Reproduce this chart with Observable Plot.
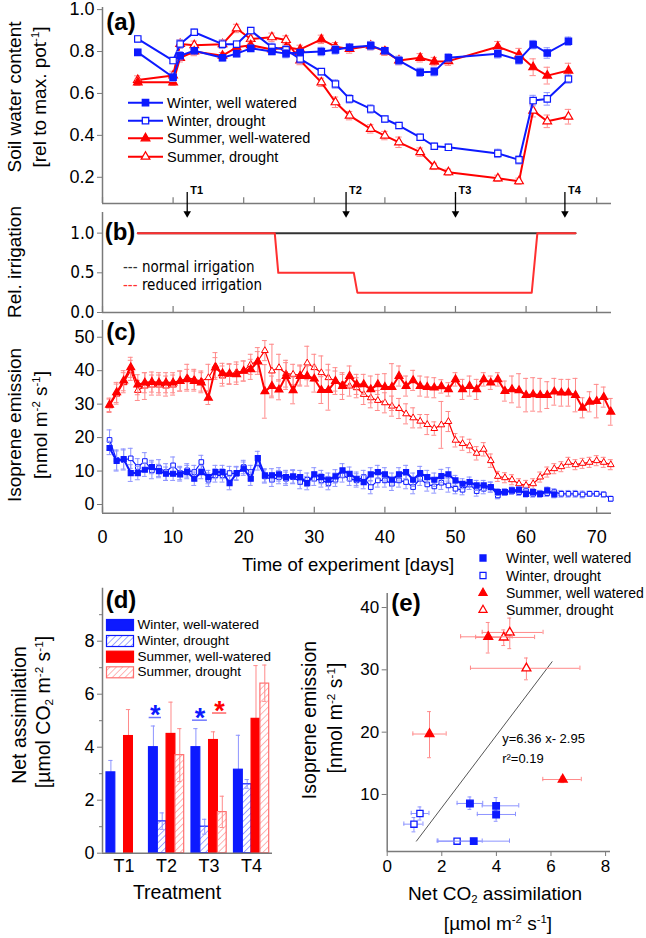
<!DOCTYPE html>
<html><head><meta charset="utf-8">
<script src="https://cdn.jsdelivr.net/npm/d3@7"></script>
<script src="https://cdn.jsdelivr.net/npm/@observablehq/plot@0.6"></script>
<style>
html,body{margin:0;padding:0;background:#fff}
#root{position:relative;width:646px;height:938px;overflow:hidden;font-family:"Liberation Sans",Arial,sans-serif;color:#000}
.t{position:absolute;white-space:nowrap;line-height:1}
.t sup{font-size:0.6em;position:relative;top:-0.6em;vertical-align:baseline}
.t sub{font-size:0.6em;position:relative;top:0.25em;vertical-align:baseline}
.narrow{font-family:"Liberation Sans Narrow","Arial Narrow","DejaVu Sans Condensed",sans-serif;font-stretch:condensed}
</style></head>
<body>
<svg width="0" height="0" style="position:absolute">
 <defs>
  <pattern id="hatchB" patternUnits="userSpaceOnUse" width="4.5" height="4.5" patternTransform="rotate(45)">
    <rect width="4.5" height="4.5" fill="#fff"/>
    <line x1="0" y1="0" x2="0" y2="4.5" stroke="#5560ff" stroke-width="1.1"/>
  </pattern>
  <pattern id="hatchR" patternUnits="userSpaceOnUse" width="4.5" height="4.5" patternTransform="rotate(45)">
    <rect width="4.5" height="4.5" fill="#fff"/>
    <line x1="0" y1="0" x2="0" y2="4.5" stroke="#ff7a7a" stroke-width="1.1"/>
  </pattern>
 </defs>
</svg>
<div id="root"></div>
<script>
// ---------- DATA ----------
const seriesNames = ["Winter, well watered","Winter, drought","Summer, well-watered","Summer, drought"];
const dayTicks = [0,10,20,30,40,50,60,70];

// Panel (a): soil water content
const daysA = [5,10,11,13,17,19,21,24,26,28,31,33,35,38,40,42,45,47,49,56,59,61,63,66];
const wWW_a = [.796,.677,.78,.804,.77,.79,.815,.80,.79,.795,.80,.808,.82,.828,.804,.757,.701,.704,.770,.789,.760,.833,.793,.849];
const wD_a  = [.86,.757,.836,.892,.835,.835,.90,.82,.808,.765,.704,.645,.574,.526,.478,.447,.391,.348,.343,.314,.283,.566,.574,.669];
const sWW_a = [.653,.653,.77,.80,.78,.82,.83,.81,.82,.81,.858,.823,.812,.828,.801,.757,.770,.752,.754,.823,.785,.725,.685,.709];
const sD_a  = [.664,.686,.836,.83,.835,.91,.86,.868,.855,.757,.653,.558,.494,.431,.399,.367,.320,.252,.224,.195,.181,.518,.467,.489];
const wWW_ae = [.015,.02,.02,.015,.015,.015,.015,.015,.02,.015,.02,.02,.015,.02,.015,.02,.02,.02,.02,.02,.02,.02,.025,.02];
const wD_ae  = [.015,.015,.02,.015,.02,.015,.015,.02,.02,.02,.015,.02,.02,.02,.015,.015,.015,.015,.015,.02,.02,.025,.03,.02];
const sWW_ae = [.015,.015,.02,.02,.015,.02,.02,.015,.02,.02,.02,.02,.02,.02,.02,.02,.02,.02,.02,.025,.03,.04,.04,.035];
const sD_ae  = [.02,.02,.02,.02,.02,.02,.02,.02,.02,.02,.02,.025,.02,.02,.02,.025,.02,.015,.015,.015,.015,.03,.03,.035];

// Panel (b): relative irrigation
const normDays = [5,67];
const normIrr  = [1,1];
const redDays  = [5,24.4,24.9,35.6,36.1,60.8,61.6,67];
const redIrr   = [1,1,0.5,0.5,0.25,0.25,1,1];
const irrLegend = ["normal irrigation","reduced irrigation"];

// Treatment arrows
const tDays = [12,34.5,50,65.5];
const tLabels = ["T1","T2","T3","T4"];

// Panel (c): isoprene emission (daily)
const daysC = [1,2,3,4,5,6,7,8,9,10,11,12,13,14,15,16,17,18,19,20,21,22,23,24,25,26,27,28,29,30,31,32,33,34,35,36,37,38,39,40,41,42,43,44,45,46,47,48,49,50,51,52,53,54,55,56,57,58,59,60,61,62,63,64,65,66,67,68,69,70,71,72];
const sWW_c = [29.8,33.5,37.0,41.0,35.8,36.4,36.6,36.4,36.4,36.4, 36.9,37.4,36.9,36.4,31.9,40.9,39.2,39.1,38.9,39.9, 40.4,42.7,33.8,35.4,34.3,38.4,34.1,38.4,38.4,37.6, 34.2,34.2,36.9,35.4,38.4,35.9,35.9,34.4,35.9,35.1, 35.1,38.4,35.4,37.1,35.4,35.1,34.9,35.3,34.4,37.4, 34.4,35.4,34.4,37.4,36.4,37.4,33.9,34.4,34.1,32.7, 32.9,32.7,32.7,33.7,33.4,33.4,32.7,28.9,30.7,30.9, 32.1,27.7];
const sD_c = [29.5,33.0,36.4,40.1,34.1,35.4,35.7,35.7,35.4,35.7, 36.9,37.9,37.4,36.9,37.9,41.4,38.4,38.9,39.6,39.9, 41.9,42.9,46.0,39.9,40.9,39.1,38.9,38.7,42.3,40.9, 39.4,37.9,36.9,35.9,35.4,34.9,32.9,31.9,31.1,30.4, 29.4,28.7,27.1,25.9,24.9,23.9,22.7,23.8,24.8,19.2, 18.2,17.5,15.3,16.5,13.1,8.4,8.0,7.4,6.2,5.7, 6.2,8.2,9.7,10.7,11.3,12.6,11.9,12.3,12.6,13.1, 12.6,11.9];
const wWW_c = [16.9,13.0,13.6,9.4,9.4,10.4,11.2,10.0,9.2,9.2, 9.0,9.7,7.7,9.7,8.2,9.7,9.7,6.4,9.4,10.7, 7.7,13.9,8.7,8.7,9.0,8.2,8.4,8.2,6.4,9.0, 8.2,7.4,8.4,10.2,9.2,7.7,6.7,9.0,9.7,9.0, 7.4,9.0,9.7,7.4,9.4,8.2,7.4,8.5,9.0,7.2, 6.2,6.7,5.7,5.7,5.2,3.7,3.7,4.2,4.4,3.2, 3.7,3.2,4.2,3.0];
const wD_c = [19.3,13.3,13.3,13.8,11.2,13.0,10.2,10.9,9.7,11.7, 9.4,10.2,9.7,12.7,7.4,8.7,8.7,9.4,9.2,11.2, 9.7,12.3,8.4,7.4,8.2,7.7,8.2,6.7,7.4,7.7, 7.2,6.4,7.4,8.7,7.7,7.2,8.2,5.2,7.2,7.2, 6.2,7.2,6.7,5.2,7.7,6.0,5.4,6.5,5.7,4.7, 4.4,6.0,4.0,4.7,5.2,2.7,3.7,4.0,3.7,4.0, 3.2,3.2,3.4,3.7,3.2,3.2,3.2,3.0,3.2,3.2, 3.0,1.7];
const sWW_ce = [2,3,3,3,3,3,3,3,3,3, 3,3,3,3,2,3,3,3,3,3, 3,3,8,3,3,4,4,3,3,4, 4,6,4,4,3,3,3,4,3,4, 7,3,3,3,3,3,3,2,2,2, 3,3,3,2,2,2,3,4,5,5, 5,5,4,4,4,4,5,3,3,5, 3,4];
const sD_ce = [2,3,3,3,3,4,3,3,3,3, 3,4,3,3,4,4,3,3,3,3, 3,4,3,8,4,4,3,3,5,4, 5,4,3,3,3,3,3,3,3,3, 3,3,3,3,2,3,2,7,3,2, 2,2,2,2,2,1.5,1.5,1.5,1.5,1.5, 1.5,1.5,1.5,1.5,1.5,1.5,1.5,1.5,1.5,1.5, 1.5,1.5];
const wWW_ce = [2,3,3,2.5,2,2,2,2,2,2, 2,2,2,2,2,2,2,2,2,2, 2,2,2,2,2,2,2,2,2,2, 2,2,2,2,2,2,2,2,2,2, 2,2,2,2,2,2,2,2,2,1.5, 1.5,1.5,1.5,1.5,1.5,1,1,1,1,1, 1,1,1,1];
const wD_ce = [3,3,3,3,2.5,2.5,2.5,2.5,2.5,2.5, 2,2,2,2,2,2,2,2,2,2, 2,2,2,2,2,2,2,2,2,2, 2,2,2,2,2,2,2,2,2,2, 2,2,2,2,2,2,2,2,2,1.5, 1.5,1.5,1.5,1.5,1.5,1,1,1,1,1, 1,1,1,1,1,1,1,1,0.8,0.8, 0.8,0.8];

// Panel (d): net assimilation per treatment
const dGroups = ["T1","T2","T3","T4"];
const d_wWW = [3.05,4.0,4.0,3.15];   const d_wWW_hi = [3.5,4.8,4.7,4.45];
const d_wD  = [null,1.2,1.0,2.6];    const d_wD_lo = [null,0.9,0.72,2.45]; const d_wD_hi = [null,1.52,1.28,2.78];
const d_sWW = [4.42,4.5,4.27,5.07];  const d_sWW_hi = [5.42,5.7,4.58,7.08];
const d_sD  = [null,3.7,1.55,6.4];   const d_sD_lo = [null,2.7,0.97,5.73]; const d_sD_hi = [null,4.7,2.15,7.1];
const dLegend = ["Winter, well-watered","Winter, drought","Summer, well-watered","Summer, drought"];
const starGroup = [2,3,3];
const starFrom = [-0.41,-0.39,0.08];
const starTo = [-0.12,-0.04,0.415];
const starLevel = [5.12,5.02,5.29];
const starColor = ["blue","blue","red"];

// Panel (e): isoprene vs assimilation
const e_wWW_x = [3.03,3.99,3.99,3.17]; const e_wWW_y = [8.56,8.18,6.79,2.51];
const e_wWW_xlo = [2.56,3.48,3.30,1.83]; const e_wWW_xhi = [3.50,4.82,4.70,4.48];
const e_wWW_ylo = [7.6,7.4,5.7,2.2]; const e_wWW_yhi = [9.6,9.5,7.9,2.8];
const e_wD_x = [1.20,0.98,2.56]; const e_wD_y = [6.95,5.24,2.51];
const e_wD_xlo = [0.88,0.61,1.86]; const e_wD_xhi = [1.53,1.31,3.48];
const e_wD_ylo = [5.9,4.0,2.2]; const e_wD_yhi = [8.0,6.3,2.8];
const e_sWW_x = [3.70,1.55,6.43]; const e_sWW_y = [35.3,19.7,12.4];
const e_sWW_xlo = [2.69,0.94,5.70]; const e_sWW_xhi = [4.58,2.16,7.11];
const e_sWW_ylo = [32.7,15.9,11.9]; const e_sWW_yhi = [37.6,23.3,12.9];
const e_sD_x = [4.27,4.49,5.10]; const e_sD_y = [35.2,36.0,30.25];
const e_sD_xlo = [3.24,3.48,3.05]; const e_sD_xhi = [5.40,5.71,7.06];
const e_sD_ylo = [33.9,33.4,28.4]; const e_sD_yhi = [36.4,38.3,31.9];
const regX = [1.07,6.04]; const regY = [2.51,31.3];
const regText = ["y=6.36 x- 2.95","r²=0.19"];
const eLegend = ["Winter, well watered","Winter, drought","Summer, well watered","Summer, drought"];

// ---------- STYLE ----------
const root = document.getElementById("root");
const FONT = "'Liberation Sans', Arial, sans-serif";
const NARROW = "'Liberation Sans Narrow','Arial Narrow','DejaVu Sans Condensed',sans-serif";
const AX = "#7a7a7a";
const BLUE = "#0d1aff", RED = "#ff0000", LBLUE = "#8d94ff", LRED = "#ff8a8a";
const colorOf = {blue: BLUE, red: RED};
const baseStyle = `font-family:${FONT};font-size:18px;background:transparent;overflow:visible;color:#000;`;

function place(svg, left, top){
  svg.style.position = "absolute"; svg.style.left = left + "px"; svg.style.top = top + "px";
  root.appendChild(svg);
}
function addText(html, x, y, o = {}){
  const d = document.createElement("div");
  d.className = "t" + (o.cls ? " " + o.cls : "");
  d.innerHTML = html;
  d.style.left = x + "px"; d.style.top = y + "px";
  d.style.fontSize = (o.size || 19) + "px";
  if (o.bold) d.style.fontWeight = "bold";
  if (o.color) d.style.color = o.color;
  const tx = o.anchor === "start" ? "0" : o.anchor === "end" ? "-100%" : "-50%";
  d.style.transform = `translate(${tx},-50%)` + (o.rot ? " rotate(-90deg)" : "");
  root.appendChild(d);
}
function zip(xs, ys, es){ return xs.map((x, i) => ({x, y: ys[i], e: es ? es[i] : 0})).filter(d => d.y != null); }
function series(data, o){
  const cap = o.cap;
  return [
    Plot.ruleX(data, {x: "x", y1: d => d.y - d.e, y2: d => d.y + d.e, stroke: o.light, strokeWidth: 1}),
    Plot.ruleY(data, {y: d => d.y + d.e, x1: d => d.x - cap, x2: d => d.x + cap, stroke: o.light, strokeWidth: 1}),
    Plot.ruleY(data, {y: d => d.y - d.e, x1: d => d.x - cap, x2: d => d.x + cap, stroke: o.light, strokeWidth: 1}),
    Plot.line(data, {x: "x", y: "y", stroke: o.color, strokeWidth: o.sw}),
    Plot.dot(data, {x: "x", y: "y", symbol: o.symbol, r: o.r, fill: o.filled ? o.color : "white", stroke: o.color, strokeWidth: o.dsw || 1.2})
  ];
}

// ---------- PANEL A ----------
const yA0 = 0.075;
const plotA = Plot.plot({
  width: 646, height: 210, marginLeft: 102, marginRight: 35, marginTop: 7, marginBottom: 7,
  style: baseStyle,
  x: {domain: [0, 72.1], axis: null},
  y: {domain: [yA0, 1.01]},
  marks: [
    Plot.ruleX([0], {stroke: AX, strokeWidth: 1.5}),
    Plot.ruleY([yA0], {stroke: AX, strokeWidth: 1.5}),
    Plot.ruleX(dayTicks, {x: d => d, y1: yA0, y2: yA0 + 0.028, stroke: AX, strokeWidth: 1.2}),
    Plot.axisY({ticks: [0.2, 0.4, 0.6, 0.8, 1.0], tickFormat: d3.format(".1f"), tickSize: 5, tickPadding: 3, stroke: AX, fontSize: 18, label: null}),
    ...series(zip(daysA, sD_a, sD_ae), {color: RED, light: LRED, symbol: "triangle", r: 3.2, filled: false, sw: 2, cap: 0.45}),
    ...series(zip(daysA, sWW_a, sWW_ae), {color: RED, light: LRED, symbol: "triangle", r: 3.2, filled: true, sw: 2, cap: 0.45}),
    ...series(zip(daysA, wD_a, wD_ae), {color: BLUE, light: LBLUE, symbol: "square", r: 3.6, filled: false, sw: 2, cap: 0.45}),
    ...series(zip(daysA, wWW_a, wWW_ae), {color: BLUE, light: LBLUE, symbol: "square", r: 3.6, filled: true, sw: 2, cap: 0.45})
  ]
});
place(plotA, 0, 0);

// ---------- PANEL B ----------
const plotB = Plot.plot({
  width: 646, height: 110, marginLeft: 102, marginRight: 35, marginTop: 7, marginBottom: 3,
  style: baseStyle,
  x: {domain: [0, 72.1], axis: null},
  y: {domain: [0, 1.26]},
  marks: [
    Plot.ruleX([0], {stroke: AX, strokeWidth: 1.5}),
    Plot.ruleY([0], {stroke: AX, strokeWidth: 1.5}),
    Plot.ruleX(dayTicks, {x: d => d, y1: 0, y2: 0.076, stroke: AX, strokeWidth: 1.2}),
    Plot.axisY({ticks: [0, 0.5, 1], tickFormat: d3.format(".1f"), tickSize: 5, tickPadding: 3, stroke: AX, fontSize: 17, fontFamily: NARROW, label: null}),
    Plot.line(zip(normDays, normIrr), {x: "x", y: "y", stroke: "#333", strokeWidth: 2}),
    Plot.line(zip(redDays, redIrr), {x: "x", y: "y", stroke: "#ff3030", strokeWidth: 2})
  ]
});
place(plotB, 0, 205);

// ---------- ARROWS T1..T4 ----------
const plotT = Plot.plot({
  width: 646, height: 45, marginLeft: 102, marginRight: 35, marginTop: 0, marginBottom: 0,
  style: baseStyle,
  x: {domain: [0, 72.1], axis: null},
  y: {domain: [0, 45], range: [0, 45], axis: null},
  marks: [
    Plot.ruleX(tDays, {x: d => d, y1: 7, y2: 27, stroke: "#000", strokeWidth: 1.3}),
    Plot.dot(tDays, {x: d => d, y: () => 28, symbol: "triangle", r: 2.8, rotate: 180, fill: "#000", stroke: "none"}),
    Plot.text(tDays, {x: d => d, y: () => 5, text: (d, i) => tLabels[i], dx: 3, textAnchor: "start", fontWeight: "bold", fontSize: 11})
  ]
});
place(plotT, 0, 185);

// ---------- PANEL C ----------
const yC0 = -2.6;
const plotC = Plot.plot({
  width: 646, height: 230, marginLeft: 102, marginRight: 35, marginTop: 7, marginBottom: 30.3,
  style: baseStyle,
  x: {domain: [0, 72.1]},
  y: {domain: [yC0, 55]},
  marks: [
    Plot.ruleX([0], {stroke: AX, strokeWidth: 1.5}),
    Plot.ruleY([yC0], {stroke: AX, strokeWidth: 1.5}),
    Plot.ruleX(dayTicks, {x: d => d, y1: yC0, y2: yC0 + 1.8, stroke: AX, strokeWidth: 1.2}),
    Plot.axisY({ticks: [0, 10, 20, 30, 40, 50], tickSize: 5, tickPadding: 3, stroke: AX, fontSize: 18, label: null}),
    Plot.axisX({ticks: dayTicks, tickSize: 0, tickPadding: 17, fontSize: 18, label: null}),
    ...series(zip(daysC, sD_c, sD_ce), {color: RED, light: LRED, symbol: "triangle", r: 2.5, filled: false, sw: 1.2, cap: 0.35, dsw: 1}),
    ...series(zip(daysC, sWW_c, sWW_ce), {color: RED, light: LRED, symbol: "triangle", r: 2.9, filled: true, sw: 2, cap: 0.35}),
    ...series(zip(daysC, wD_c, wD_ce), {color: BLUE, light: LBLUE, symbol: "square", r: 2.6, filled: false, sw: 1.2, cap: 0.35, dsw: 1}),
    ...series(zip(daysC.slice(0, wWW_c.length), wWW_c, wWW_ce), {color: BLUE, light: LBLUE, symbol: "square", r: 2.8, filled: true, sw: 2, cap: 0.35})
  ]
});
place(plotC, 0, 313);

// ---------- PANEL D ----------
const BW = 0.207;
function barRows(vals, lo, hi, k){
  return vals.map((v, i) => ({g: i + 1, k, v, lo: lo ? lo[i] : v, hi: hi[i]})).filter(d => d.v != null);
}
const bWWW = barRows(d_wWW, null, d_wWW_hi, 0);
const bWD = barRows(d_wD, d_wD_lo, d_wD_hi, 1);
const bSWW = barRows(d_sWW, null, d_sWW_hi, 2);
const bSD = barRows(d_sD, d_sD_lo, d_sD_hi, 3);
const bx1 = d => d.g - 2 * BW + d.k * BW;
const bx2 = d => bx1(d) + BW;
const bxm = d => bx1(d) + BW / 2;
function barMarks(rows, fill, stroke, light){
  return [
    Plot.ruleX(rows, {x: bxm, y1: "lo", y2: "hi", stroke: light, strokeWidth: 1}),
    Plot.ruleY(rows, {y: "hi", x1: d => bxm(d) - 0.05, x2: d => bxm(d) + 0.05, stroke: light, strokeWidth: 1}),
    Plot.rectY(rows, {x1: bx1, x2: bx2, y1: 0, y2: "v", fill, stroke, strokeWidth: 1.2}),
    Plot.ruleX(rows.filter(d => d.lo < d.v), {x: bxm, y1: "lo", y2: "v", stroke: light, strokeWidth: 1}),
    Plot.ruleY(rows.filter(d => d.lo < d.v), {y: "lo", x1: d => bxm(d) - 0.05, x2: d => bxm(d) + 0.05, stroke: light, strokeWidth: 1})
  ];
}
const stars = starGroup.map((g, i) => ({g, a: starFrom[i], b: starTo[i], y: starLevel[i], c: colorOf[starColor[i]]}));
const plotD = Plot.plot({
  width: 300, height: 300, marginLeft: 102, marginRight: 28, marginTop: 7.7, marginBottom: 27.3,
  style: baseStyle,
  x: {domain: [0.492, 4.492]},
  y: {domain: [0, 10]},
  marks: [
    ...barMarks(bWWW, BLUE, BLUE, LBLUE),
    ...barMarks(bWD, "url(#hatchB)", BLUE, LBLUE),
    ...barMarks(bSWW, RED, RED, LRED),
    ...barMarks(bSD, "url(#hatchR)", "#ff7070", LRED),
    Plot.ruleX([0.492], {stroke: AX, strokeWidth: 1.5}),
    Plot.ruleY([0], {stroke: AX, strokeWidth: 1.5}),
    Plot.axisY({ticks: [0, 2, 4, 6, 8], tickSize: 5, tickPadding: 3, stroke: AX, fontSize: 18, label: null}),
    Plot.axisY({ticks: [1, 3, 5, 7, 9], tickSize: 3, tickFormat: () => "", stroke: AX, label: null}),
    Plot.axisX({ticks: [1, 2, 3, 4], tickFormat: i => dGroups[i - 1], tickSize: 0, tickPadding: 6, fontSize: 18, label: null}),
    Plot.ruleY(stars, {y: "y", x1: d => d.g + d.a, x2: d => d.g + d.b, stroke: d => d.c, strokeOpacity: 0.6, strokeWidth: 1.5}),
    Plot.text(stars, {x: d => d.g + (d.a + d.b) / 2, y: "y", text: () => "*", fill: d => d.c, fontSize: 27, fontWeight: "bold", dy: -2})
  ]
});
place(plotD, 0, 580);

// ---------- PANEL E ----------
function ePts(xs, ys, xlo, xhi, ylo, yhi){
  return xs.map((x, i) => ({x, y: ys[i], xlo: xlo[i], xhi: xhi[i], ylo: ylo[i], yhi: yhi[i]}));
}
const eWWW = ePts(e_wWW_x, e_wWW_y, e_wWW_xlo, e_wWW_xhi, e_wWW_ylo, e_wWW_yhi);
const eWD = ePts(e_wD_x, e_wD_y, e_wD_xlo, e_wD_xhi, e_wD_ylo, e_wD_yhi);
const eSWW = ePts(e_sWW_x, e_sWW_y, e_sWW_xlo, e_sWW_xhi, e_sWW_ylo, e_sWW_yhi);
const eSD = ePts(e_sD_x, e_sD_y, e_sD_xlo, e_sD_xhi, e_sD_ylo, e_sD_yhi);
function eMarks(pts, color, light, symbol, r, filled){
  const cx = 0.07, cy = 0.35;
  return [
    Plot.ruleY(pts, {y: "y", x1: "xlo", x2: "xhi", stroke: light, strokeWidth: 1}),
    Plot.ruleX(pts, {x: "xlo", y1: d => d.y - cy, y2: d => d.y + cy, stroke: light, strokeWidth: 1}),
    Plot.ruleX(pts, {x: "xhi", y1: d => d.y - cy, y2: d => d.y + cy, stroke: light, strokeWidth: 1}),
    Plot.ruleX(pts, {x: "x", y1: "ylo", y2: "yhi", stroke: light, strokeWidth: 1}),
    Plot.ruleY(pts, {y: "ylo", x1: d => d.x - cx, x2: d => d.x + cx, stroke: light, strokeWidth: 1}),
    Plot.ruleY(pts, {y: "yhi", x1: d => d.x - cx, x2: d => d.x + cx, stroke: light, strokeWidth: 1}),
    Plot.dot(pts, {x: "x", y: "y", symbol, r, fill: filled ? color : "white", stroke: color, strokeWidth: 1.3})
  ];
}
const yE0 = 0.85;
const plotE = Plot.plot({
  width: 346, height: 300, marginLeft: 86.7, marginRight: 36, marginTop: 13, marginBottom: 29,
  style: baseStyle,
  x: {domain: [0, 8.18]},
  y: {domain: [yE0, 42.25]},
  marks: [
    Plot.ruleX([0], {stroke: AX, strokeWidth: 1.5}),
    Plot.ruleY([yE0], {stroke: AX, strokeWidth: 1.5}),
    Plot.axisX({ticks: [0, 2, 4, 6, 8], tickSize: 5, tickPadding: 3, stroke: AX, fontSize: 17, label: null}),
    Plot.axisY({ticks: [10, 20, 30, 40], tickSize: 5, tickPadding: 3, stroke: AX, fontSize: 17, label: null}),
    Plot.line(zip(regX, regY), {x: "x", y: "y", stroke: "#555", strokeWidth: 1}),
    ...eMarks(eSD, RED, LRED, "triangle", 3.3, false),
    ...eMarks(eSWW, RED, LRED, "triangle", 3.3, true),
    ...eMarks(eWD, BLUE, LBLUE, "square", 3.5, false),
    ...eMarks(eWWW, BLUE, LBLUE, "square", 3.7, true),
    Plot.text([regText[0]], {x: () => 4.21, y: () => 19.0, text: d => d, textAnchor: "start", fontSize: 13}),
    Plot.text([regText[1]], {x: () => 4.21, y: () => 15.8, text: d => d, textAnchor: "start", fontSize: 13})
  ]
});
place(plotE, 300, 580);

// ---------- LEGEND GRAPHICS ----------
const leg = d3.create("svg").attr("width", 646).attr("height", 938)
  .style("position", "absolute").style("left", "0").style("top", "0").style("pointer-events", "none");
root.appendChild(leg.node());
const sym = (t, r) => d3.symbol(t, Math.PI * r * r)();
const legStyle = [
  {c: BLUE, s: d3.symbolSquare, f: true, r: 3.6},
  {c: BLUE, s: d3.symbolSquare, f: false, r: 3.6},
  {c: RED, s: d3.symbolTriangle, f: true, r: 3.2},
  {c: RED, s: d3.symbolTriangle, f: false, r: 3.2}
];
// panel (a) legend
[102.7, 120.7, 138.3, 156.7].forEach((y, i) => {
  const d = legStyle[i];
  leg.append("line").attr("x1", 128).attr("x2", 163).attr("y1", y).attr("y2", y).attr("stroke", d.c).attr("stroke-width", 2);
  leg.append("path").attr("d", sym(d.s, d.r)).attr("transform", `translate(145.5,${y})`)
    .attr("fill", d.f ? d.c : "#fff").attr("stroke", d.c).attr("stroke-width", 1.3);
  addText(seriesNames[i], 167, y, {size: 14.5, anchor: "start"});
});
// panel (d) legend
const dSw = [{fill: BLUE, stroke: BLUE}, {fill: "url(#hatchB)", stroke: BLUE}, {fill: RED, stroke: RED}, {fill: "url(#hatchR)", stroke: "#ff7070"}];
[625, 641, 656.7, 672.3].forEach((y, i) => {
  leg.append("rect").attr("x", 106.5).attr("y", y - 5.5).attr("width", 27).attr("height", 11)
    .attr("fill", dSw[i].fill).attr("stroke", dSw[i].stroke).attr("stroke-width", 1.2);
  addText(dLegend[i], 137.5, y, {size: 13.5, anchor: "start"});
});
// panel (e) legend
[558, 575.5, 593, 610].forEach((y, i) => {
  const d = legStyle[i];
  leg.append("path").attr("d", sym(d.s, d.r * 0.95)).attr("transform", `translate(483,${y})`)
    .attr("fill", d.f ? d.c : "#fff").attr("stroke", d.c).attr("stroke-width", 1.2);
  addText(eLegend[i], 506, y, {size: 14, anchor: "start"});
});
// panel (b) legend
addText(`<span style="color:#333">---</span> ${irrLegend[0]}`, 123, 266.5, {size: 15, anchor: "start", cls: "narrow"});
addText(`<span style="color:#ff3030">---</span> ${irrLegend[1]}`, 123, 284.5, {size: 15, anchor: "start", cls: "narrow"});

// ---------- TEXT ----------
addText("(a)", 121, 22, {size: 24, bold: true});
addText("(b)", 120, 232, {size: 24, bold: true});
addText("(c)", 121, 332, {size: 24, bold: true});
addText("(d)", 121, 600, {size: 24, bold: true});
addText("(e)", 406, 603, {size: 24, bold: true});
addText("Soil water content", 14, 97, {size: 19, rot: true});
addText("[rel to max. pot<sup>-1</sup>]", 39, 97, {size: 19, rot: true});
addText("Rel. irrigation", 14, 262, {size: 19, rot: true});
addText("Isoprene emission", 14, 425, {size: 19, rot: true});
addText("[nmol m<sup>-2</sup> s<sup>-1</sup>]", 40, 425, {size: 19, rot: true});
addText("Time of experiment [days]", 348, 565, {size: 18.5});
addText("Net assimilation", 20, 715, {size: 19.5, rot: true});
addText("[µmol CO<sub>2</sub> m<sup>-2</sup> s<sup>-1</sup>]", 44, 712, {size: 19.5, rot: true});
addText("Treatment", 177, 893, {size: 19.5});
addText("Isoprene emission", 310, 720, {size: 19.5, rot: true});
addText("[nmol m<sup>-2</sup> s<sup>-1</sup>]", 336, 718, {size: 19.5, rot: true});
addText("Net CO<sub>2</sub> assimilation", 495, 893, {size: 19});
addText("[µmol m<sup>-2</sup> s<sup>-1</sup>]", 498, 923, {size: 19});
</script>
</body></html>
